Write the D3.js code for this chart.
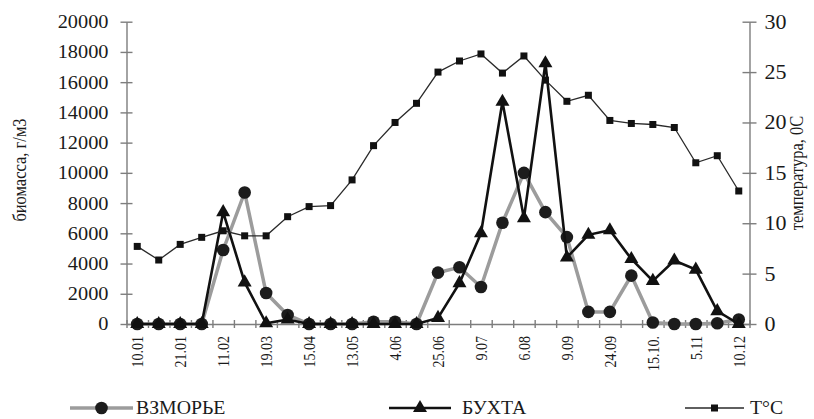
<!DOCTYPE html>
<html>
<meta charset="utf-8">
<script src="https://d3js.org/d3.v7.min.js"></script>
<style>
    body { margin: 0; background: #fff; }
    svg text { font-family: "Liberation Serif", "Times New Roman", serif; fill: #1a1a1a; }
</style>
<body>
<svg width="814" height="419"></svg>
<script>
    // labels are printed under every second sample
    const tickLabels = ["10.01", "21.01", "11.02", "19.03", "15.04", "13.05", "4.06", "25.06",
                        "9.07", "6.08", "9.09", "24.09", "15.10.", "5.11", "10.12"];
    // biomass, g/m3
    const vzmorye = [0, 0, 0, 0, 4900, 8700, 2050, 600, 0, 0, 0, 150, 150, 0, 3400,
                     3750, 2450, 6700, 10000, 7400, 5750, 800, 800, 3200, 100, 0, 0, 50, 300];
    const buxta = [0, 0, 0, 0, 7400, 2750, 50, 300, 0, 0, 0, 0, 0, 0, 400,
                   2700, 6000, 14700, 7000, 17250, 4400, 5900, 6200, 4300, 2850, 4200, 3600, 850, 0];
    // water temperature, °C
    const temperature = [7.7, 6.35, 7.9, 8.6, 9.25, 8.75, 8.75, 10.65, 11.65, 11.75, 14.3, 17.7, 20.0, 21.9, 25.0,
                         26.1, 26.8, 24.9, 26.6, 24.2, 22.1, 22.7, 20.2, 19.9, 19.8, 19.5, 16.0, 16.7, 13.2];
    const seriesNames = ["ВЗМОРЬЕ", "БУХТА", "T°C"];

    const svg = d3.select("svg");
    const nSamples = temperature.length;
    const stretch = 1.1; // scanned picture is a bit wider than tall
    const axisColor = "#7d7d7d";

    const x = d3.scaleLinear().domain([0, nSamples]).range([126.5, 749.5]);
    const yL = d3.scaleLinear().domain([0, 20000]).range([324, 21.7]);
    const yR = d3.scaleLinear().domain([0, 30]).range([324, 21.7]);
    const cx = i => x(i + 0.5);

    function styleAxis(g) {
        g.attr("font-family", null);
        g.select(".domain").attr("stroke", axisColor).attr("stroke-width", 1.4);
        g.selectAll(".tick line").attr("stroke", axisColor).attr("stroke-width", 1.4);
    }

    // left axis
    svg.append("g")
        .attr("transform", `translate(${x(0)},0)`)
        .call(d3.axisLeft(yL).tickValues(d3.range(0, 20001, 2000)).tickSizeOuter(0).tickFormat(d3.format("d")))
        .call(styleAxis)
        .call(g => {
            g.selectAll(".tick line").attr("x1", -6).attr("x2", 6);
            g.selectAll(".tick text").attr("x", -18 / stretch).attr("transform", `scale(${stretch},1)`)
                .style("font-size", "18.5px");
        });

    // right axis
    svg.append("g")
        .attr("transform", `translate(${x(nSamples)},0)`)
        .call(d3.axisRight(yR).tickValues(d3.range(0, 31, 5)).tickSizeOuter(0))
        .call(styleAxis)
        .call(g => {
            g.selectAll(".tick line").attr("x1", -7).attr("x2", 7);
            g.selectAll(".tick text").attr("x", 15 / stretch).attr("transform", `scale(${stretch},1)`)
                .style("font-size", "20px");
        });

    // category axis, ticks between samples
    svg.append("g")
        .attr("transform", `translate(0,${yL(0)})`)
        .call(d3.axisBottom(x).tickValues(d3.range(0, nSamples + 1)).tickFormat("").tickSizeOuter(0))
        .call(styleAxis)
        .call(g => g.selectAll(".tick line").attr("y1", -4).attr("y2", 4));

    svg.append("g").selectAll("text")
        .data(tickLabels)
        .enter().append("text")
        .attr("transform", (d, k) => `translate(${cx(k * 2)},336) scale(1.2,1) rotate(-90)`)
        .attr("text-anchor", "end")
        .attr("dy", "0.35em")
        .style("font-size", "14px")
        .text(d => d);

    // axis titles
    svg.append("text")
        .attr("transform", `translate(20,170) scale(${stretch},1) rotate(-90)`)
        .attr("text-anchor", "middle").attr("dy", "0.35em")
        .style("font-size", "16.5px")
        .text("биомасса, г/м3");
    svg.append("text")
        .attr("transform", `translate(797,173) scale(${stretch},1) rotate(-90)`)
        .attr("text-anchor", "middle").attr("dy", "0.35em")
        .style("font-size", "16.5px")
        .text("температура, 0С");

    // series
    const lineL = d3.line().x((d, i) => cx(i)).y(d => yL(d));
    const lineR = d3.line().x((d, i) => cx(i)).y(d => yR(d));
    const triangle = d3.symbol(d3.symbolTriangle, 85);

    svg.append("path").datum(vzmorye)
        .attr("d", lineL).attr("fill", "none").attr("stroke", "#9c9c9c").attr("stroke-width", 3.5);
    svg.append("g").selectAll("circle")
        .data(vzmorye).enter().append("circle")
        .attr("cx", (d, i) => cx(i)).attr("cy", d => yL(d)).attr("r", 6.3)
        .attr("fill", "#1c1c1c");

    svg.append("path").datum(buxta)
        .attr("d", lineL).attr("fill", "none").attr("stroke", "#111").attr("stroke-width", 2.6);
    svg.append("g").selectAll("path")
        .data(buxta).enter().append("path")
        .attr("d", triangle)
        .attr("transform", (d, i) => `translate(${cx(i)},${yL(d)})`)
        .attr("fill", "#111");

    svg.append("path").datum(temperature)
        .attr("d", lineR).attr("fill", "none").attr("stroke", "#2a2a2a").attr("stroke-width", 1.3);
    svg.append("g").selectAll("rect")
        .data(temperature).enter().append("rect")
        .attr("x", (d, i) => cx(i) - 3.5).attr("y", d => yR(d) - 3.5)
        .attr("width", 7).attr("height", 7)
        .attr("fill", "#111");

    // legend
    const legendY = 408;
    const legendItems = [
        { x0: 70, x1: 133, tx: 136, stroke: "#9c9c9c", width: 3.5, marker: "circle" },
        { x0: 389, x1: 451, tx: 462, stroke: "#111", width: 2.6, marker: "triangle" },
        { x0: 685, x1: 744, tx: 750, stroke: "#2a2a2a", width: 1.3, marker: "square" }
    ];
    const legend = svg.append("g").selectAll("g")
        .data(legendItems).enter().append("g");
    legend.append("line")
        .attr("x1", d => d.x0).attr("x2", d => d.x1)
        .attr("y1", legendY).attr("y2", legendY)
        .attr("stroke", d => d.stroke).attr("stroke-width", d => d.width);
    legend.each(function (d) {
        const g = d3.select(this), mx = (d.x0 + d.x1) / 2;
        if (d.marker === "circle")
            g.append("circle").attr("cx", mx).attr("cy", legendY).attr("r", 6.3).attr("fill", "#1c1c1c");
        else if (d.marker === "triangle")
            g.append("path").attr("d", triangle).attr("transform", `translate(${mx},${legendY})`).attr("fill", "#111");
        else
            g.append("rect").attr("x", mx - 3.5).attr("y", legendY - 3.5).attr("width", 7).attr("height", 7).attr("fill", "#111");
    });
    legend.append("text")
        .attr("transform", d => `translate(${d.tx},414) scale(${stretch},1)`)
        .style("font-size", "18px")
        .text((d, i) => seriesNames[i]);
</script>
</body>
</html>
